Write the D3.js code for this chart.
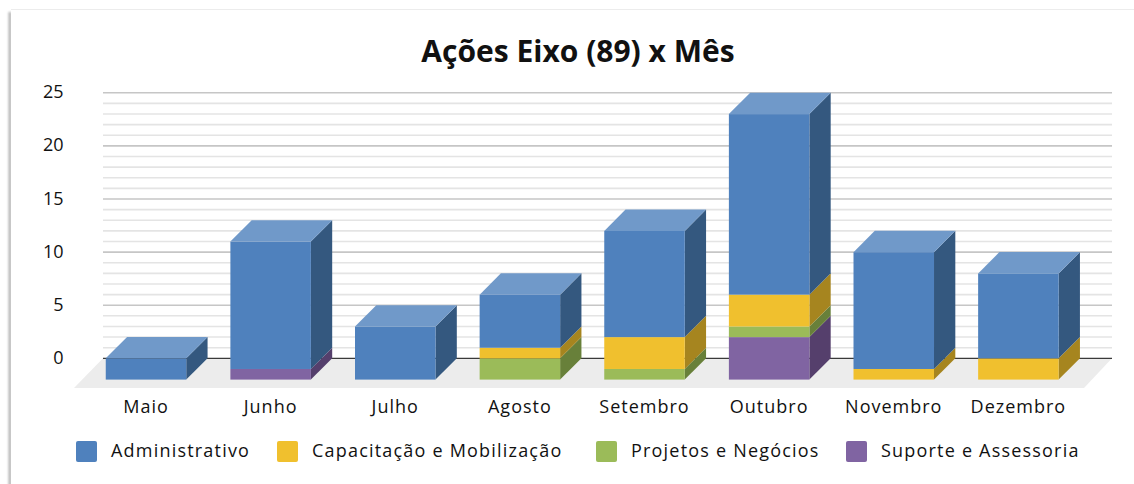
<!DOCTYPE html>
<html><head><meta charset="utf-8">
<script src="https://cdn.jsdelivr.net/npm/d3@7"></script>
<style>
html,body{margin:0;padding:0;background:#fff;overflow:hidden}
svg{display:block}
text{font-family:"Open Sans",Lato,sans-serif;fill:#111}
</style></head><body>
<svg id="c" width="1134" height="484"></svg>
<script>
const months=["Maio","Junho","Julho","Agosto","Setembro","Outubro","Novembro","Dezembro"];
const seriesNames=["Suporte e Assessoria","Projetos e Negócios","Capacitação e Mobilização","Administrativo"];
const legendOrder=["Administrativo","Capacitação e Mobilização","Projetos e Negócios","Suporte e Assessoria"];
const suporte=[0,1,0,0,0,4,0,0];
const projetos=[0,0,0,2,1,1,0,0];
const capacitacao=[0,0,0,1,3,3,1,2];
const administrativo=[2,12,5,5,10,17,11,8];
const yTicks=[0,5,10,15,20,25];
const minorTicks=d3.range(0,26);
const colorFront={"Administrativo":"#4f81bd","Capacitação e Mobilização":"#f0c02e","Projetos e Negócios":"#9bbb59","Suporte e Assessoria":"#8064a2"};
const colorSide={"Administrativo":"#34587f","Capacitação e Mobilização":"#a6851f","Projetos e Negócios":"#68803a","Suporte e Assessoria":"#553f6c"};
const colorTop="#7099c9";
const legendX=[76,277,596,846];

const svg=d3.select("#c");
const depth=21.3;
const x=d3.scaleBand().domain(months).range([83.7,1080.7]).paddingInner(0.354).paddingOuter(0.177);
const y=d3.scaleLinear().domain([0,25]).range([358.3,92.8]);
const L=103,R=1112;

// card frame: soft grey shadow on the left, faint line on top
const defs=svg.append("defs");
const f=defs.append("filter").attr("id","soft").attr("x","-300%").attr("y","-5%").attr("width","700%").attr("height","110%");
f.append("feGaussianBlur").attr("stdDeviation",1.2);
svg.append("rect").attr("x",8.5).attr("y",12).attr("width",3).attr("height",500).attr("fill","#b4b4b4").attr("filter","url(#soft)");
svg.append("rect").attr("x",11).attr("y",9).attr("width",1123).attr("height",1).attr("fill","#ececec");
svg.append("rect").attr("x",11).attr("y",10).attr("width",1123).attr("height",474).attr("fill","#fff");

// floor
svg.append("path").attr("fill","#ececec")
  .attr("d",d3.line()([[L,y(0)],[R,y(0)],[1084,388],[74,388]])+"Z");

// gridlines
svg.append("g").selectAll("line").data(minorTicks.filter(v=>v>0)).join("line")
  .attr("x1",L).attr("x2",R).attr("y1",d=>y(d)).attr("y2",d=>y(d))
  .attr("stroke",d=>d%5===0?"#c6c6c6":"#e4e4e4").attr("stroke-width",1.6);
svg.append("line").attr("x1",L).attr("x2",R).attr("y1",y(0)).attr("y2",y(0)).attr("stroke","#3a3a3a").attr("stroke-width",1.3);

// y axis
const gy=svg.append("g").attr("transform","translate(63.5,0)")
  .call(d3.axisLeft(y).tickValues(yTicks).tickSize(0).tickPadding(0));
gy.select(".domain").remove();
gy.selectAll("text").attr("font-size",18).attr("dy","0.28em");

// x axis
const gx=svg.append("g").attr("transform","translate(0,402)")
  .call(d3.axisBottom(x).tickSize(0).tickPadding(0));
gx.select(".domain").remove();
gx.selectAll("text").attr("font-size",18).attr("dy","0.6em").style("letter-spacing","1px");

// stacked bars
const rows=months.map((m,i)=>({month:m,"Suporte e Assessoria":suporte[i],"Projetos e Negócios":projetos[i],"Capacitação e Mobilização":capacitacao[i],"Administrativo":administrativo[i]}));
const stacked=d3.stack().keys(seriesNames)(rows);
const bw=x.bandwidth();
months.forEach((m,i)=>{
  const g=svg.append("g");
  const x0=x(m),x1=x0+bw;
  stacked.forEach(s=>{
    const [a,b]=s[i];
    if(b<=a) return;
    const yb=y(a)+depth,yt=y(b)+depth;
    g.append("path").attr("fill",colorSide[s.key])
      .attr("d",d3.line()([[x1,yb],[x1+depth,yb-depth],[x1+depth,yt-depth],[x1,yt]])+"Z");
    g.append("rect").attr("x",x0).attr("y",yt).attr("width",bw).attr("height",yb-yt).attr("fill",colorFront[s.key]);
  });
  const total=d3.max(stacked,s=>s[i][1]);
  const yt=y(total)+depth;
  g.append("path").attr("fill",colorTop)
    .attr("d",d3.line()([[x0,yt],[x1,yt],[x1+depth,yt-depth],[x0+depth,yt-depth]])+"Z");
});

// title
svg.append("text").attr("x",578).attr("y",62).attr("text-anchor","middle")
  .attr("font-size",30).attr("font-weight",700).text("Ações Eixo (89) x Mês");

// legend
const lg=svg.append("g").selectAll("g").data(legendOrder).join("g")
  .attr("transform",(d,i)=>`translate(${legendX[i]},441)`);
lg.append("rect").attr("width",21).attr("height",21).attr("rx",2).attr("fill",d=>colorFront[d]);
lg.append("text").attr("x",35).attr("y",16).attr("font-size",18).style("letter-spacing","1.2px").text(d=>d);
</script>
</body></html>
